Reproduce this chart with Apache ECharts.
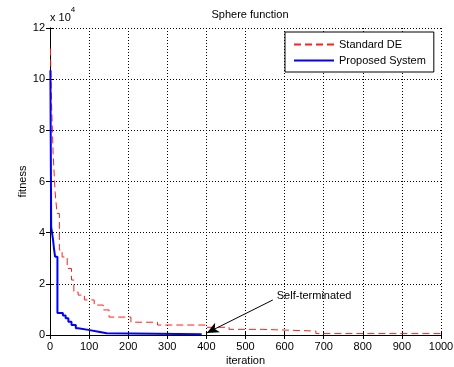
<!DOCTYPE html>
<html>
<head>
<meta charset="utf-8">
<script src="https://cdn.jsdelivr.net/npm/echarts@6/dist/echarts.min.js"></script>
<style>
html,body{margin:0;padding:0;background:#fff;}
#c{width:454px;height:367px;}
</style>
</head>
<body>
<div id="c"></div>
<script>
// Standard DE: [iteration, fitness] step levels
const deIter    = [1, 4, 8, 13, 18, 24, 31, 44, 55, 61, 72, 88, 113, 136, 151, 207, 275, 400, 458, 543, 680, 1000];
const deFitness = [112000, 90000, 71000, 56000, 47500, 33200, 30500, 26000, 21500, 16800, 15600, 13700, 11700, 9800, 7000, 5000, 3900, 3000, 2200, 1550, 550, 550];
// Proposed System
const psIter    = [1, 3, 8, 10, 13, 19, 33, 40, 47, 55, 66, 72, 98, 124, 145, 388];
const psFitness = [103500, 42300, 37000, 34000, 30600, 8600, 7600, 6500, 5200, 3900, 2600, 2000, 1300, 650, 260, 260];
const xTicks = [0, 100, 200, 300, 400, 500, 600, 700, 800, 900, 1000];
const yTicks = [0, 20000, 40000, 60000, 80000, 100000, 120000];
// annotation
const noteText = 'Self-terminated';
const noteTextAt = [580, 14500];
const arrowFrom = [570, 13700];
const arrowTo = [401, 800];

const FONT = 'Liberation Sans, Arial, sans-serif';
const chart = echarts.init(document.getElementById('c'), null, {renderer: 'canvas'});
const zip = (a, b) => a.map((v, i) => [v, b[i]]);

const axisCommon = {
  axisLine: {show: true, lineStyle: {color: '#000', width: 1}},
  axisTick: {show: true, inside: true, length: 4, lineStyle: {color: '#000'}},
};

chart.setOption({
  animation: false,
  backgroundColor: '#fff',
  title: {
    text: 'Sphere function', left: 245, top: 4, textAlign: 'center',
    textStyle: {fontFamily: FONT, fontSize: 11, fontWeight: 'normal', color: '#000'}
  },
  grid: {left: 50, right: 13, top: 28, bottom: 32, containLabel: false, outerBoundsMode: 'none'},
  legend: {
    orient: 'vertical', left: 285, top: 32,
    padding: [7, 8, 6, 8], itemGap: 5, itemWidth: 40, itemHeight: 11,
    backgroundColor: '#fff', borderColor: '#000', borderWidth: 1, borderRadius: 0,
    itemStyle: {opacity: 0},
    textStyle: {fontFamily: FONT, fontSize: 11, color: '#000'},
    data: ['Standard DE', 'Proposed System']
  },
  xAxis: [{
    type: 'value', min: 0, max: 1000, interval: 100,
    name: 'iteration', nameLocation: 'middle', nameGap: 20, nameMoveOverlap: false,
    nameTextStyle: {fontFamily: FONT, fontSize: 11, color: '#000'},
    ...axisCommon,
    axisLabel: {fontFamily: FONT, fontSize: 11, color: '#000', margin: 6, formatter: v => String(v)},
    splitLine: {show: true, lineStyle: {color: '#000', type: [1, 2], width: 1}}
  }, {
    type: 'value', position: 'top', min: 0, max: 1000, interval: 100,
    ...axisCommon, axisLabel: {show: false}, splitLine: {show: false}
  }],
  yAxis: [{
    type: 'value', min: 0, max: 120000, interval: 20000,
    name: 'fitness', nameLocation: 'middle', nameGap: 22, nameMoveOverlap: false,
    nameTextStyle: {fontFamily: FONT, fontSize: 11, color: '#000'},
    ...axisCommon,
    axisLabel: {fontFamily: FONT, fontSize: 11, color: '#000', margin: 5,
      formatter: v => String(v / 10000)},
    splitLine: {show: true, lineStyle: {color: '#000', type: [1, 2], width: 1}}
  }, {
    type: 'value', position: 'right', min: 0, max: 120000, interval: 20000,
    ...axisCommon, axisLabel: {show: false}, splitLine: {show: false}
  }],
  series: [{
    name: 'Standard DE', type: 'line', step: 'end', symbol: 'none',
    data: zip(deIter, deFitness),
    lineStyle: {color: '#ff2020', width: 1, type: [7, 4]},
    itemStyle: {color: '#ff2020'},
    z: 3
  }, {
    name: 'Proposed System', type: 'line', step: 'end', symbol: 'none',
    data: zip(psIter, psFitness),
    lineStyle: {color: '#0000ff', width: 2},
    itemStyle: {color: '#0000ff'},
    z: 4,
    markLine: {
      silent: true, animation: false,
      symbol: ['none', 'arrow'], symbolSize: [8, 12],
      label: {show: false},
      lineStyle: {color: '#000', width: 1, type: 'solid'},
      data: [[{coord: arrowFrom}, {coord: arrowTo}]]
    }
  }]
});

const p = chart.convertToPixel({xAxisIndex: 0, yAxisIndex: 0}, noteTextAt);
chart.setOption({
  graphic: [{
    type: 'text', left: p[0], top: p[1] - 7,
    style: {text: noteText, font: '11px ' + FONT, fill: '#000'}
  }, {
    type: 'text', left: 50, top: 6,
    style: {
      text: '{a|x 10}{b|4}',
      rich: {
        a: {font: '11px ' + FONT, fill: '#000', verticalAlign: 'bottom', padding: [6, 0, 0, 0]},
        b: {font: '8px ' + FONT, fill: '#000', verticalAlign: 'top'}
      }
    }
  }]
});
</script>
</body>
</html>
